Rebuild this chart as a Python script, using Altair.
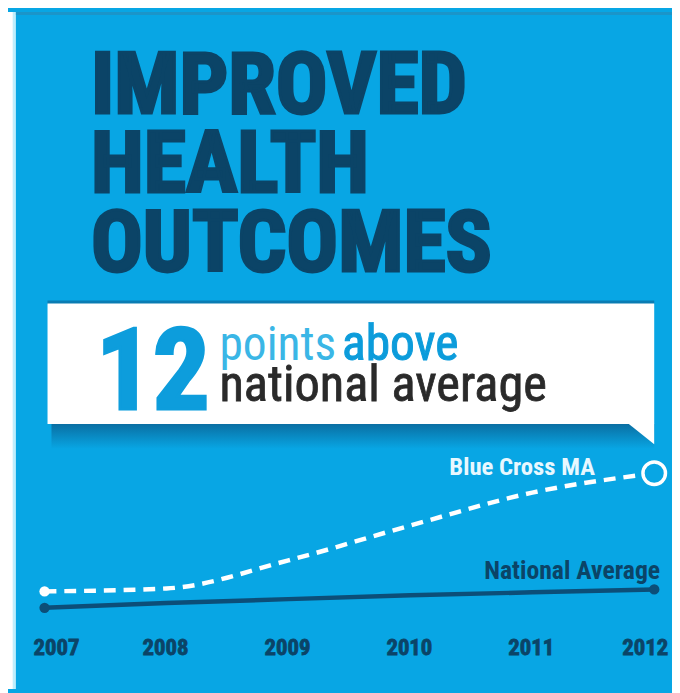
import altair as alt
import pandas as pd

# ---- data ----
years = [2007, 2008, 2009, 2010, 2011, 2012]
blue_cross = [79.4, 79.7, 82.6, 86.2, 89.6, 91.6]
national = [77.7, 78.2, 78.6, 79.0, 79.3, 79.6]
title_lines = ["IMPROVED", "HEALTH", "OUTCOMES"]
headline_number = "12"
headline_word1 = "points"
headline_word2 = "above"
headline_line2 = "national average"
series_labels = ["Blue Cross MA", "National Average"]

BG = "#08a6e4"
DARK = "#0b4467"
FONT = "Roboto Condensed, DejaVu Sans Condensed, sans-serif"

W, H = 672, 685

bc_df = pd.DataFrame({"year": years, "value": blue_cross})
na_df = pd.DataFrame({"year": years, "value": national})
one = pd.DataFrame({"k": [0]})

xs = alt.Scale(domain=[2007, 2012], range=[37, 654], nice=False)
ys = alt.Scale(domain=[78, 92], range=[600, 462.8], nice=False, zero=False)
X = alt.X("year:Q", scale=xs, axis=None)
Y = alt.Y("value:Q", scale=ys, axis=None)

def vrect(x, x2, y, y2, color, opacity=1.0):
    return alt.Chart(one).mark_rect(color=color, opacity=opacity).encode(
        x=alt.value(x), x2=alt.value(x2), y=alt.value(y), y2=alt.value(y2))

def vtext(txt, x, y, size, color, weight="normal", align="left", stroke=None, sw=0, **extra):
    kw = dict(text=txt, font=FONT, fontSize=size, color=color, fontWeight=weight,
              align=align, baseline="alphabetic", **extra)
    if stroke:
        kw.update(stroke=stroke, strokeWidth=sw)
    return alt.Chart(one).mark_text(**kw).encode(x=alt.value(x), y=alt.value(y))

layers = []
# left white border strip and top shade
layers.append(vrect(0, 5, 0, H, "#ffffff"))
layers.append(vrect(5, 8, 0, H, "#bfeefc"))
layers.append(vrect(8, W, 0, 3, "#1b95c9"))

# title (one multi-line text)
layers.append(vtext(title_lines, 84, 102, 87, DARK, weight="bold", stroke=DARK, sw=3, lineHeight=80))

# callout box shadow + box + tail
shadow = alt.Chart(one).mark_rect(
    color=alt.Gradient(gradient="linear", x1=0, x2=0, y1=0, y2=1,
                       stops=[alt.GradientStop(color="#0a6fa3", offset=0),
                              alt.GradientStop(color=BG, offset=1)])
).encode(x=alt.value(44), x2=alt.value(654), y=alt.value(417), y2=alt.value(442))
layers.append(shadow)
layers.append(vrect(40, 654, 292, 296, "#0a7cb3"))
layers.append(vrect(40, 654, 295, 417, "#ffffff"))
tail = alt.Chart(one).mark_point(
    shape="M -1 -0.8 L 1 -0.8 L 1 0.8 Z", filled=True, color="#ffffff", opacity=1, size=676
).encode(x=alt.value(641), y=alt.value(427))
layers.append(tail)

layers.append(vtext(headline_number, 89, 402, 114, "#0d9ddc", weight="bold", stroke="#0d9ddc", sw=3))
layers.append(vtext(headline_word1, 214, 352, 48, "#3ab6e6"))
layers.append(vtext(headline_word2, 338, 352, 50, "#0c9cdb", stroke="#0c9cdb", sw=1))
layers.append(vtext(headline_line2, 214, 394, 51, "#2a2a2a", stroke="#2a2a2a", sw=0.8))

# national average line
na_line = alt.Chart(na_df).mark_line(color="#0c4e78", strokeWidth=4.5).encode(x=X, y=Y)
na_pts = alt.Chart(na_df[na_df["year"].isin([2007, 2012])]).mark_point(
    filled=True, color="#0c4e78", opacity=1, size=110).encode(x=X, y=Y)
layers += [na_line, na_pts]

# blue cross line
bc_line = alt.Chart(bc_df).mark_line(color="#ffffff", strokeWidth=4.5, strokeDash=[12, 8],
                                      interpolate="monotone").encode(x=X, y=Y)
bc_start = alt.Chart(bc_df[bc_df["year"] == 2007]).mark_point(
    filled=True, color="#ffffff", opacity=1, size=110).encode(x=X, y=Y)
bc_end = alt.Chart(bc_df[bc_df["year"] == 2012]).mark_point(
    filled=True, fill=BG, stroke="#ffffff", strokeWidth=3.5, opacity=1, size=520).encode(x=X, y=Y)
layers += [bc_line, bc_start, bc_end]

# series labels
bc_lab = alt.Chart(pd.DataFrame({"year": [2012], "value": [blue_cross[-1]], "t": [series_labels[0]]})).mark_text(
    font=FONT, fontSize=25, fontWeight="bold", color="#e8f8ff", align="right", baseline="alphabetic",
    dx=-60, dy=2).encode(x=X, y=Y, text="t:N")
na_lab = alt.Chart(pd.DataFrame({"year": [2012], "value": [national[-1]], "t": [series_labels[1]]})).mark_text(
    font=FONT, fontSize=26, fontWeight="bold", color=DARK, align="right", baseline="alphabetic",
    dx=6, dy=-11).encode(x=X, y=Y, text="t:N")
layers += [bc_lab, na_lab]

# year labels (small per-group nudges as in the reference)
yr_df = pd.DataFrame({"year": years, "t": [str(y) for y in years]})
for sel, dx in [([2007], 12), ([2008, 2009, 2010, 2011], -1), ([2012], -9)]:
    yr = alt.Chart(yr_df[yr_df["year"].isin(sel)]).mark_text(
        font=FONT, fontSize=23, fontWeight="bold", color=DARK, stroke=DARK, strokeWidth=0.8,
        align="center", baseline="alphabetic", dx=dx).encode(
        x=X, y=alt.value(651), text="t:N")
    layers.append(yr)

chart = alt.layer(*layers).properties(
    width=W, height=H, background=BG, padding=0,
    autosize=alt.AutoSizeParams(type="none")
).configure_view(stroke=None)

chart.save("out.html", embed_options={"renderer": "svg", "actions": False})
